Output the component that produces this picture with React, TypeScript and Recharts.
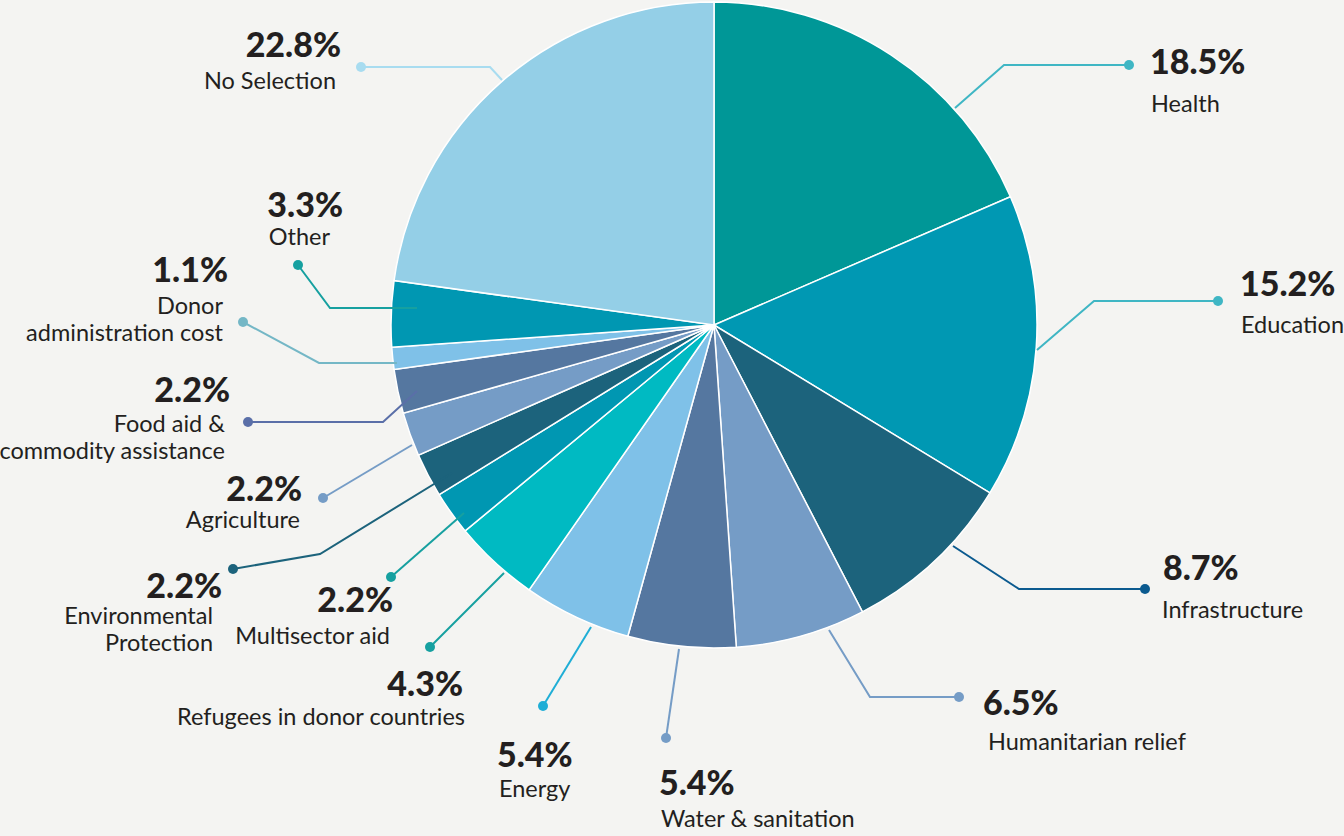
import { PieChart, Pie, Cell } from "recharts";

// Share of aid by sector (percent), clockwise from 12 o'clock
const sectors = [
  "Health",
  "Education",
  "Infrastructure",
  "Humanitarian relief",
  "Water & sanitation",
  "Energy",
  "Refugees in donor countries",
  "Multisector aid",
  "Environmental Protection",
  "Agriculture",
  "Food aid & commodity assistance",
  "Donor administration cost",
  "Other",
  "No Selection",
];
const shares = [18.5, 15.2, 8.7, 6.5, 5.4, 5.4, 4.3, 2.2, 2.2, 2.2, 2.2, 1.1, 3.3, 22.8];

// how each sector name is broken over lines in the labels
const nameLines = [
  ["Health"],
  ["Education"],
  ["Infrastructure"],
  ["Humanitarian relief"],
  ["Water & sanitation"],
  ["Energy"],
  ["Refugees in donor countries"],
  ["Multisector aid"],
  ["Environmental", "Protection"],
  ["Agriculture"],
  ["Food aid &", "commodity assistance"],
  ["Donor", "administration cost"],
  ["Other"],
  ["No Selection"],
];

const sliceColors = [
  "#009797", "#0098b3", "#1c637c", "#759cc6", "#5577a0", "#7fc1e8", "#00bac2",
  "#0097b2", "#1c637c", "#759cc6", "#5577a0", "#7fc1e8", "#0097b2", "#94cfe7",
];
const leaderColors = [
  "#3fb6c4", "#3fb6c4", "#0b5a8f", "#759cc6", "#759cc6", "#1faed6", "#16a0a0",
  "#16a0a0", "#1c637c", "#759cc6", "#5a6fa8", "#74b7c6", "#16a0a0", "#a8dcf0",
];

type LabelLayout = {
  pts: [number, number][]; // leader line, relative to pie centre; last point gets the dot
  anchor: "start" | "end";
  vx: number;
  vy: number;
  nx: number;
  ny: number;
};

// annotation placement, offsets from the pie centre
const labelLayout: LabelLayout[] = [
  { pts: [[241, -217], [290, -260], [415, -260]], anchor: "start", vx: 436, vy: -251, nx: 437, ny: -213 },
  { pts: [[323, 25], [380, -24], [504, -24]], anchor: "start", vx: 526, vy: -29, nx: 527, ny: 8 },
  { pts: [[239, 221], [305, 264], [431, 264]], anchor: "start", vx: 449, vy: 255, nx: 448, ny: 293 },
  { pts: [[115, 305], [156, 372], [245, 372]], anchor: "start", vx: 269, vy: 390, nx: 274, ny: 425 },
  { pts: [[-35, 324], [-48, 413]], anchor: "start", vx: -55, vy: 470, nx: -53, ny: 502 },
  { pts: [[-123, 302], [-171, 381]], anchor: "start", vx: -217, vy: 442, nx: -215, ny: 472 },
  { pts: [[-210, 248], [-284, 322]], anchor: "end", vx: -251, vy: 371, nx: -249, ny: 400 },
  { pts: [[-250, 188], [-323, 252]], anchor: "end", vx: -321, vy: 287, nx: -324, ny: 319 },
  { pts: [[-262, 148], [-394, 229], [-481, 244]], anchor: "end", vx: -492, vy: 273, nx: -501, ny: 299 },
  { pts: [[-302, 120], [-391, 173]], anchor: "end", vx: -412, vy: 176, nx: -414, ny: 203 },
  { pts: [[-297, 66], [-331, 97], [-466, 97]], anchor: "end", vx: -484, vy: 77, nx: -489, ny: 107 },
  { pts: [[-317, 38], [-395, 38], [-471, -3]], anchor: "end", vx: -486, vy: -43, nx: -491, ny: -11 },
  { pts: [[-297, -17], [-384, -17], [-416, -60]], anchor: "end", vx: -371, vy: -108, nx: -384, ny: -80 },
  { pts: [[-212, -245], [-224, -258], [-353, -258]], anchor: "end", vx: -373, vy: -268, nx: -378, ny: -236 },
];

const data = sectors.map((name, i) => ({ name, value: shares[i] }));

const FONT = "Lato, 'Open Sans', sans-serif";
const TEXT = "#231f20";

function SectorLabel(props: any) {
  const { cx, cy, index } = props;
  const l = labelLayout[index];
  if (!l) return null;
  const pts = l.pts.map(([x, y]) => `${cx + x},${cy + y}`).join(" ");
  const [dx, dy] = l.pts[l.pts.length - 1];
  const color = leaderColors[index];
  return (
    <g>
      <polyline points={pts} fill="none" stroke={color} strokeWidth={2} />
      <circle cx={cx + dx} cy={cy + dy} r={5} fill={color} />
      <text
        x={cx + l.vx}
        y={cy + l.vy}
        textAnchor={l.anchor}
        fontFamily={FONT}
        fontWeight={900}
        fontSize={34}
        fill={TEXT}
      >
        {`${shares[index].toFixed(1)}%`}
      </text>
      {nameLines[index].map((line, k) => (
        <text
          key={k}
          x={cx + l.nx}
          y={cy + l.ny + k * 27}
          textAnchor={l.anchor}
          fontFamily={FONT}
          fontWeight={400}
          fontSize={23.5}
          fill={TEXT}
        >
          {line}
        </text>
      ))}
    </g>
  );
}

export default function App() {
  return (
    <div
      style={{
        position: "absolute",
        left: 0,
        top: 0,
        width: 1344,
        height: 836,
        background: "#f4f4f2",
      }}
    >
      <PieChart width={1344} height={836} margin={{ top: 0, right: 0, bottom: 0, left: 0 }}>
        <Pie
          data={data}
          dataKey="value"
          nameKey="name"
          cx={714}
          cy={325}
          outerRadius={323}
          startAngle={90}
          endAngle={-270}
          stroke="#ffffff"
          strokeWidth={1.5}
          label={SectorLabel}
          labelLine={false}
          isAnimationActive={false}
        >
          {data.map((d, i) => (
            <Cell key={d.name} fill={sliceColors[i]} />
          ))}
        </Pie>
      </PieChart>
    </div>
  );
}
